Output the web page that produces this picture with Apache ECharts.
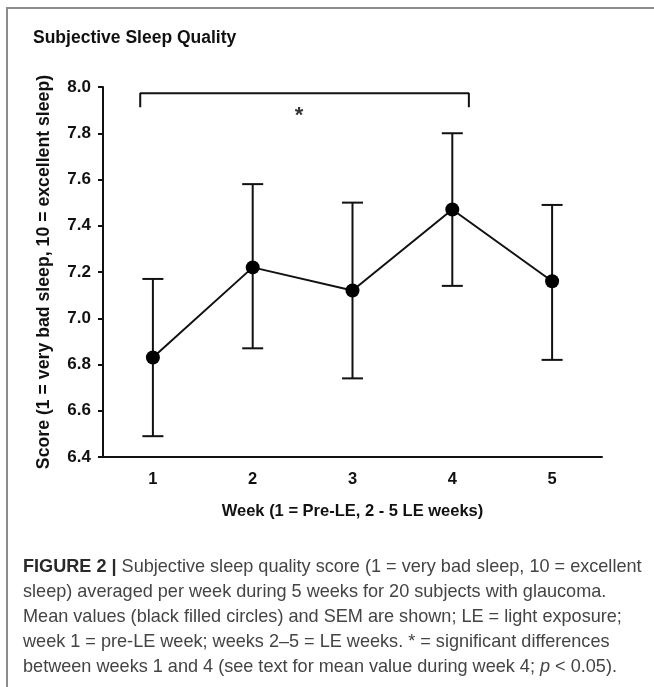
<!DOCTYPE html>
<html><head><meta charset="utf-8">
<script src="https://cdn.jsdelivr.net/npm/echarts@6/dist/echarts.min.js"></script>
<style>html,body{margin:0;padding:0;background:#fff}#c{width:654px;height:687px}</style>
</head><body><div id="c"></div>
<script>
const weeks = ['1', '2', '3', '4', '5'];
const meanScore = [6.83, 7.22, 7.12, 7.47, 7.16];
const semLow = [6.49, 6.87, 6.74, 7.14, 6.82];
const semHigh = [7.17, 7.58, 7.50, 7.80, 7.49];
const yMin = 6.4, yMax = 8.0, yStep = 0.2;
const bracketPts = [[0.873, 7.912], [0.873, 7.973], [4.166, 7.973], [4.166, 7.912]];
const starPt = [2.465, 7.875];
const titleText = 'Subjective Sleep Quality';
const yName = 'Score (1 = very bad sleep, 10 = excellent sleep)';
const xName = 'Week (1 = Pre-LE, 2 - 5 LE weeks)';
const captionLines = [
  '{b|FIGURE 2 |} Subjective sleep quality score (1 = very bad sleep, 10 = excellent',
  'sleep) averaged per week during 5 weeks for 20 subjects with glaucoma.',
  'Mean values (black filled circles) and SEM are shown; LE = light exposure;',
  'week 1 = pre-LE week; weeks 2–5 = LE weeks. * = significant differences',
  'between weeks 1 and 4 (see text for mean value during week 4; {i|p} < 0.05).'
];

const AX = '#111';
const FONT = 'Liberation Sans, Arial, sans-serif';
const chart = echarts.init(document.getElementById('c'));

const captionGraphics = captionLines.map((t, i) => ({
  type: 'text', left: 23, top: 558 + i * 25,
  style: {
    text: t, fontFamily: FONT, fontSize: 18.1, fill: '#444',
    rich: {
      b: { fontFamily: FONT, fontSize: 18.1, fontWeight: 'bold', fill: '#2a2a2a' },
      i: { fontFamily: FONT, fontSize: 18.1, fontStyle: 'italic', fill: '#444' }
    }
  }
}));

chart.setOption({
  animation: false,
  backgroundColor: '#fff',
  title: {
    text: titleText, left: 28, top: 24,
    textStyle: { fontFamily: FONT, fontSize: 17.5, fontWeight: 'bold', color: '#111' }
  },
  grid: { left: 103, top: 87, right: 52, bottom: 230 },
  xAxis: [{
    type: 'category', data: weeks, boundaryGap: true,
    name: xName, nameLocation: 'middle', nameGap: 46,
    nameTextStyle: { fontFamily: FONT, fontSize: 16.5, fontWeight: 'bold', color: AX },
    axisLine: { lineStyle: { color: AX, width: 2 } },
    axisTick: { alignWithLabel: true, length: 5, lineStyle: { color: AX, width: 2 } },
    axisLabel: { margin: 14, fontFamily: FONT, fontSize: 16.5, fontWeight: 'bold', color: AX },
    splitLine: { show: false }
  }, {
    type: 'value', min: 0.5, max: 5.5, show: false
  }],
  yAxis: {
    type: 'value', min: yMin, max: yMax, interval: yStep,
    name: yName, nameLocation: 'middle', nameGap: 50, nameRotate: 90,
    nameTextStyle: { fontFamily: FONT, fontSize: 17.7, fontWeight: 'bold', color: AX },
    axisLine: { show: true, lineStyle: { color: AX, width: 2 } },
    axisTick: { show: true, length: 5, lineStyle: { color: AX, width: 2 } },
    axisLabel: { margin: 12, fontFamily: FONT, fontSize: 17, fontWeight: 'bold', color: AX, formatter: v => v.toFixed(1) },
    splitLine: { show: false }
  },
  graphic: [
    { type: 'line', shape: { x1: 6, y1: 8, x2: 654, y2: 8 }, style: { stroke: '#8c8c8c', lineWidth: 2 } },
    { type: 'line', shape: { x1: 7, y1: 8, x2: 7, y2: 687 }, style: { stroke: '#8c8c8c', lineWidth: 2 } }
  ].concat(captionGraphics),
  series: [
    {
      type: 'custom', xAxisIndex: 0, z: 2,
      data: weeks.map((w, i) => [i, semLow[i], semHigh[i]]),
      renderItem: (params, api) => {
        const lo = api.coord([api.value(0), api.value(1)]);
        const hi = api.coord([api.value(0), api.value(2)]);
        const w = 10.5;
        const st = { stroke: AX, lineWidth: 2 };
        return { type: 'group', children: [
          { type: 'line', shape: { x1: lo[0], y1: lo[1], x2: hi[0], y2: hi[1] }, style: st },
          { type: 'line', shape: { x1: lo[0] - w, y1: lo[1], x2: lo[0] + w, y2: lo[1] }, style: st },
          { type: 'line', shape: { x1: hi[0] - w, y1: hi[1], x2: hi[0] + w, y2: hi[1] }, style: st }
        ] };
      }
    },
    {
      type: 'line', xAxisIndex: 0, z: 3, data: meanScore,
      symbol: 'circle', symbolSize: 14,
      lineStyle: { color: AX, width: 2 }, itemStyle: { color: '#000' }
    },
    {
      type: 'line', xAxisIndex: 1, data: bracketPts, symbol: 'none',
      lineStyle: { color: AX, width: 2 }
    },
    {
      type: 'scatter', xAxisIndex: 1, data: [starPt], symbolSize: 2, z: 5,
      itemStyle: { color: 'rgba(0,0,0,0)' },
      label: { show: true, formatter: '*', position: 'inside', fontFamily: FONT, fontSize: 22, fontWeight: 'bold', color: '#000' }
    }
  ]
});
</script></body></html>
